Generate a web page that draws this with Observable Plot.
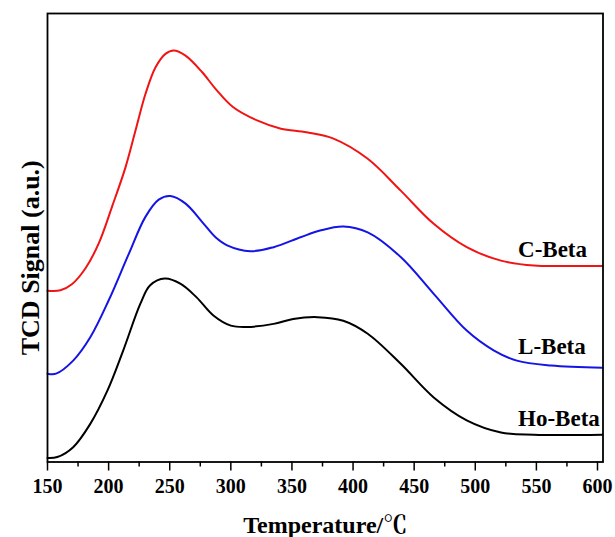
<!DOCTYPE html>
<html>
<head>
<meta charset="utf-8">
<script src="https://cdn.jsdelivr.net/npm/d3@7"></script>
<script src="https://cdn.jsdelivr.net/npm/@observablehq/plot@0.6"></script>
<style>
  html, body { margin: 0; padding: 0; background: #fff; }
</style>
</head>
<body>
<div id="chart"></div>
<script>
// Temperatures (°C) and TCD signal (a.u.)
const cBetaT = [150,160.6,170.2,181.1,192,202.9,213.8,222,230.2,238.4,246.5,253.3,262.9,276.6,287.5,302,322,341,362,384,412,439,466,493,521,548,575,604];
const cBetaV = [38.2,38.3,39.7,43.2,48.8,57.0,65.7,73.9,82.1,88.0,91.0,91.75,90.6,86.9,83.2,79.1,76.1,74.3,73.5,72.1,67.6,60.5,53.1,47.9,44.9,43.8,43.7,43.7];

const lBetaT = [150,157,171,185,200,216.5,230,241,250.6,263,276.6,287.5,297,316,335,357,373,392,412,439,466,493,515,534,562,604];
const lBetaV = [19.7,19.7,22.6,27.8,36.0,46.4,54.6,58.5,59.3,57.6,53.5,50.1,48.3,47.0,47.9,50.1,51.6,52.5,51.2,45.7,37.5,29.3,24.9,22.6,21.5,21.0];

const hoBetaT = [150,158,171,185,199,212,226,234,246,259,272,286,300,313,335,351,371,392,412,439,466,493,521,548,604];
const hoBetaV = [0.9,1.1,3.3,8.5,15.9,24.9,35.3,39.4,40.9,39.7,36.7,32.6,30.4,30.1,30.8,31.9,32.3,31.5,28.6,21.9,14.4,9.3,6.6,6.1,6.1];

const seriesNames = ["C-Beta", "L-Beta", "Ho-Beta"];
const seriesColors = ["#f01414", "#1414e6", "#000000"];
const labelT = [535, 535, 535];
const labelV = [45.8, 24.1, 8.1];

const majorTicks = [150, 200, 250, 300, 350, 400, 450, 500, 550, 600];
const minorTicks = [175, 225, 275, 325, 375, 425, 475, 525, 575];

const xTitle = "Temperature/℃";
const yTitle = "TCD Signal (a.u.)";

const rows = [];
[[cBetaT, cBetaV], [lBetaT, lBetaV], [hoBetaT, hoBetaV]].forEach(([T, V], i) => {
  T.forEach((t, j) => rows.push({series: seriesNames[i], t, v: V[j]}));
});
const labels = seriesNames.map((name, i) => ({name, t: labelT[i], v: labelV[i]}));

const font = "Liberation Serif, Noto Serif CJK SC, Noto Sans CJK SC, DejaVu Serif, serif";

const chart = Plot.plot({
  width: 615,
  height: 537,
  marginLeft: 47,
  marginRight: 12.5,
  marginTop: 13,
  marginBottom: 75.5,
  style: {fontFamily: font, fontWeight: "bold", fontSize: "20px", background: "#fff", color: "#000"},
  x: {domain: [150, 604.5]},
  y: {domain: [0, 100], axis: null},
  color: {domain: seriesNames, range: seriesColors},
  marks: [
    Plot.line(rows, {x: "t", y: "v", z: "series", stroke: "series", strokeWidth: 2, curve: "catmull-rom"}),
    Plot.text(labels, {x: "t", y: "v", text: "name", textAnchor: "start", lineAnchor: "bottom",
      fontSize: 23, fontWeight: "bold", fontFamily: font, fill: "#000"}),
    Plot.axisX({ticks: minorTicks, tickSize: 5, tickFormat: () => "", label: null, strokeWidth: 1.5}),
    Plot.axisX({ticks: majorTicks, tickSize: 9, tickPadding: 8, label: null, strokeWidth: 1.5,
      fontSize: 20, fontWeight: "bold", fontFamily: font, tickFormat: d => String(d)}),
    Plot.frame({stroke: "#000", strokeWidth: 1.8}),
    Plot.text([xTitle], {frameAnchor: "bottom", textAnchor: "middle", lineAnchor: "bottom", dy: 70.5,
      fontSize: 24, fontWeight: "bold", fontFamily: font, fill: "#000"}),
    Plot.text([yTitle], {frameAnchor: "left", textAnchor: "middle", lineAnchor: "middle", rotate: -90, dx: -17, dy: 20,
      fontSize: 26, fontWeight: "bold", fontFamily: font, fill: "#000"})
  ]
});
document.getElementById("chart").appendChild(chart);
</script>
</body>
</html>
